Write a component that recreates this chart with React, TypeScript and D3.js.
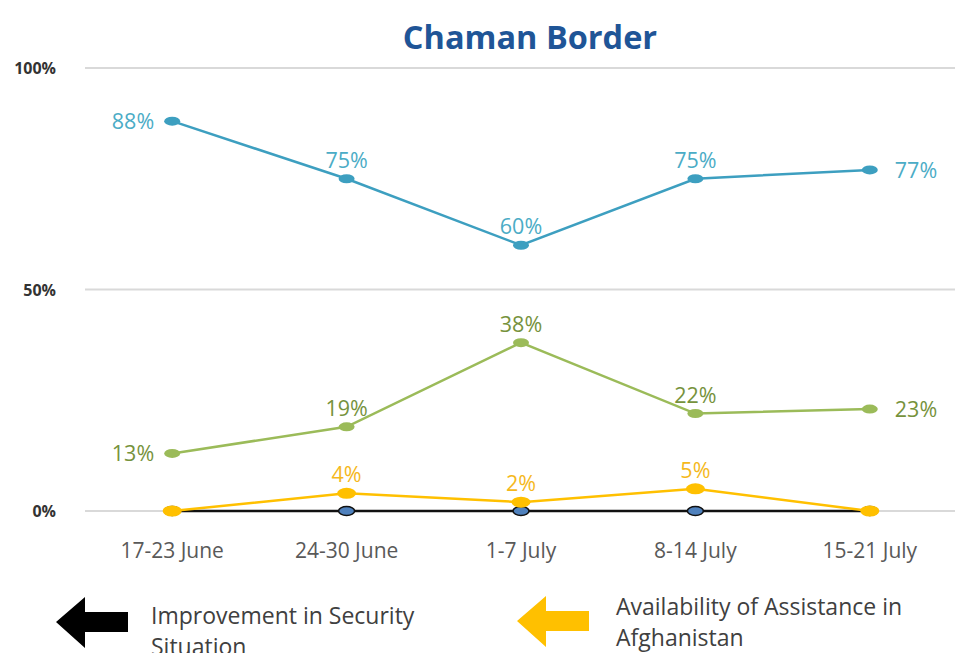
import React from "react";
import * as d3 from "d3";

const weeks = ["17-23 June", "24-30 June", "1-7 July", "8-14 July", "15-21 July"];
const peaceValues = [88, 75, 60, 75, 77];
const familyValues = [13, 19, 38, 22, 23];
const assistanceValues = [0, 4, 2, 5, 0];
const securityValues = [0, 0, 0, 0, 0];
const yTicks = [0, 50, 100];

const W = 956;
const H = 653;
const FONT = "'Open Sans', Lato, sans-serif";

// label placement per point: l = left, t = top, r = right, n = none
const peacePos = ["l", "t", "t", "t", "r"];
const familyPos = ["l", "t", "t", "t", "r"];
const assistancePos = ["n", "t", "t", "t", "n"];

const series = [
  { values: securityValues, line: "#111111", fill: "#4f81bd", stroke: "#111111", text: "none", pos: ["n", "n", "n", "n", "n"] },
  { values: familyValues, line: "#9bbb59", fill: "#9bbb59", stroke: "none", text: "#76923c", pos: familyPos },
  { values: peaceValues, line: "#3d9fc0", fill: "#3d9fc0", stroke: "none", text: "#4bacc6", pos: peacePos },
  { values: assistanceValues, line: "#ffc000", fill: "#ffc000", stroke: "none", text: "#f5b81c", pos: assistancePos },
];

function arrow(x: number, y: number) {
  // left-pointing block arrow, tip at (x, y)
  return `M${x},${y} L${x + 29},${y - 25} L${x + 29},${y - 10} L${x + 72},${y - 10} L${x + 72},${y + 10} L${x + 29},${y + 10} L${x + 29},${y + 26} Z`;
}

export default function App() {
  const x = d3.scaleBand<string>().domain(weeks).range([85, 957]);
  const y = d3.scaleLinear().domain([0, 100]).range([511, 68]);
  const cx = (i: number) => (x(weeks[i]) as number) + x.bandwidth() / 2;

  const line = d3
    .line<number>()
    .x((_, i) => cx(i))
    .y((d) => y(d));

  return (
    <svg width={W} height={H} style={{ display: "block", position: "absolute", left: 0, top: 0 }}>
      <rect width={W} height={H} fill="#ffffff" />
      <text x={530} y={49} textAnchor="middle" fontFamily={FONT} fontWeight={700} fontSize={32.5} fill="#1f5597">
        Chaman Border
      </text>

      {yTicks.map((t) => (
        <g key={t}>
          <line x1={85} x2={955} y1={y(t)} y2={y(t)} stroke="#d9d9d9" strokeWidth={2} />
          <text x={56} y={y(t) + 6} textAnchor="end" fontFamily={FONT} fontWeight={700} fontSize={16} fill="#333333">
            {t}%
          </text>
        </g>
      ))}

      {weeks.map((w, i) => (
        <text key={w} x={cx(i)} y={558} textAnchor="middle" fontFamily={FONT} fontSize={21} fill="#595959">
          {w}
        </text>
      ))}

      {series.map((s, si) => (
        <g key={si}>
          <path d={line(s.values) as string} fill="none" stroke={s.line} strokeWidth={2.5} />
          {s.values.map((v, i) => (
            <ellipse
              key={i}
              cx={cx(i)}
              cy={y(v)}
              rx={si === 3 ? 9.5 : 8}
              ry={si === 3 ? 5.5 : 4.5}
              fill={s.fill}
              stroke={s.stroke}
              strokeWidth={1.5}
            />
          ))}
          {s.values.map((v, i) => {
            const p = s.pos[i];
            if (p === "n") return null;
            const lx = p === "l" ? cx(i) - 18 : p === "r" ? cx(i) + 25 : cx(i);
            const ly = p === "t" ? y(v) - 11 : y(v) + 8;
            const anchor = p === "l" ? "end" : p === "r" ? "start" : "middle";
            return (
              <text key={"l" + i} x={lx} y={ly} textAnchor={anchor} fontFamily={FONT} fontSize={21.5} fill={s.text}>
                {v}%
              </text>
            );
          })}
        </g>
      ))}

      <path d={arrow(56, 622)} fill="#000000" />
      <text fontFamily={FONT} fontSize={23} fill="#404040">
        <tspan x={151} y={624}>Improvement in Security</tspan>
        <tspan x={151} y={655}>Situation</tspan>
      </text>

      <path d={arrow(517, 621)} fill="#ffc000" />
      <text fontFamily={FONT} fontSize={23} fill="#404040">
        <tspan x={616} y={615}>Availability of Assistance in</tspan>
        <tspan x={616} y={646}>Afghanistan</tspan>
      </text>
    </svg>
  );
}
